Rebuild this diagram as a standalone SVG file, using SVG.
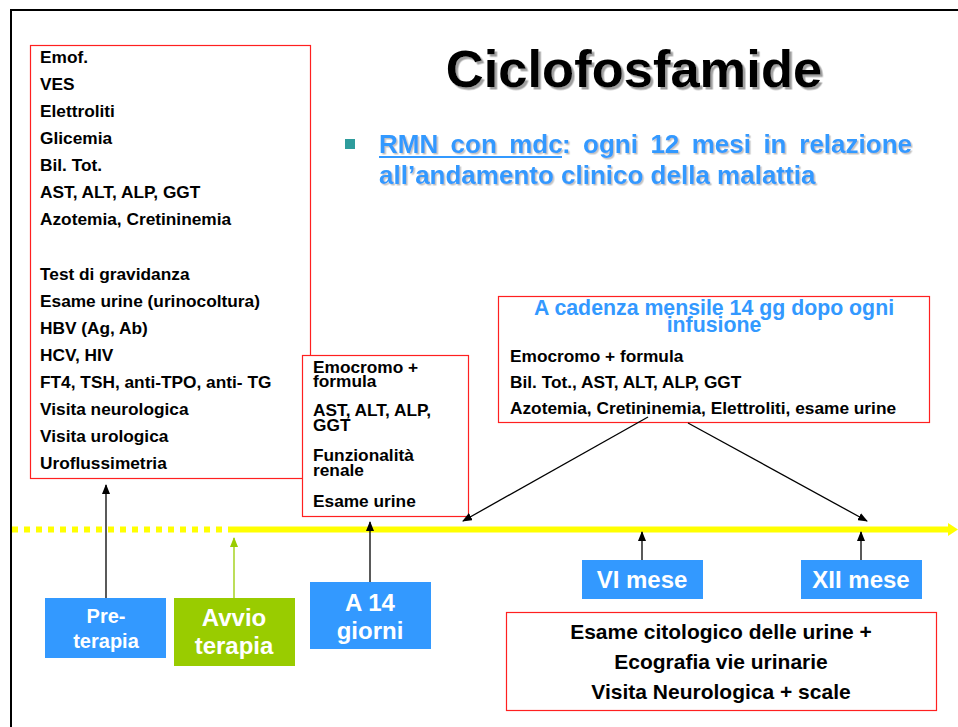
<svg xmlns="http://www.w3.org/2000/svg" width="958" height="727" viewBox="0 0 958 727">
<style>
text{font-family:"Liberation Sans",Arial,sans-serif;font-weight:bold}
.k{font-size:17.3px;fill:#000}
.b{font-size:26px;fill:#3399ff}
.w{fill:#fff;text-anchor:middle}
.rb{fill:#fff;stroke:#ff2020;stroke-width:1.2}
.blue{fill:#3399ff}
.green{fill:#99cc00}
.arr{stroke:#000;stroke-width:1.3;fill:none;marker-end:url(#ah)}
</style>
<defs>
<marker id="ah" markerUnits="userSpaceOnUse" markerWidth="10" markerHeight="8" refX="9" refY="4" orient="auto"><path d="M0,0 L10,4 L0,8 Z" fill="#000"/></marker>
<marker id="ahg" markerUnits="userSpaceOnUse" markerWidth="10" markerHeight="8" refX="9" refY="4" orient="auto"><path d="M0,0 L10,4 L0,8 Z" fill="#99cc00"/></marker>
<filter id="sh1" x="-5%" y="-20%" width="110%" height="140%"><feDropShadow dx="2.5" dy="2.5" stdDeviation="0.6" flood-color="#888" flood-opacity="0.8"/></filter>
<filter id="sh2" x="-5%" y="-20%" width="110%" height="140%"><feDropShadow dx="1.5" dy="1.5" stdDeviation="0.6" flood-color="#aaa" flood-opacity="0.7"/></filter>
</defs>
<rect width="958" height="727" fill="#fff"/>
<g id="frame"><path d="M10,10 H958 M11,10 V727" stroke="#000" stroke-width="2" fill="none"/></g>

<g id="title"><text x="634" y="87" font-size="52.5" text-anchor="middle" filter="url(#sh1)">Ciclofosfamide</text></g>

<g id="bullet">
<rect x="345" y="139" width="10" height="10" fill="#2e9c9c"/>
<g filter="url(#sh2)">
<text class="b" x="379" y="153">RMN</text>
<text class="b" x="450.6" y="153">con</text>
<text class="b" x="509.2" y="153">mdc</text>
<text class="b" x="562" y="153">:</text>
<text class="b" x="583.1" y="153">ogni</text>
<text class="b" x="650.4" y="153">12</text>
<text class="b" x="691.7" y="153">mesi</text>
<text class="b" x="763.4" y="153">in</text>
<text class="b" x="912" y="153" text-anchor="end">relazione</text>
<text class="b" x="379" y="184">all’andamento clinico della malattia</text>
</g>
<rect x="379" y="156" width="183" height="2" fill="#3399ff"/>
</g>

<g id="timeline">
<line x1="12" y1="529.5" x2="232" y2="529.5" stroke="#ffff00" stroke-width="6" stroke-dasharray="6 6"/>
<line x1="232" y1="529.5" x2="950" y2="529.5" stroke="#ffff00" stroke-width="6"/>
<polygon points="948,523 958,529.5 948,536" fill="#ffff00"/>
</g>

<g id="pre-exams">
<rect class="rb" x="30.5" y="45.5" width="280" height="433"/>
<text class="k" x="40" y="63">Emof.</text>
<text class="k" x="40" y="90">VES</text>
<text class="k" x="40" y="117">Elettroliti</text>
<text class="k" x="40" y="144">Glicemia</text>
<text class="k" x="40" y="171">Bil. Tot.</text>
<text class="k" x="40" y="198">AST, ALT, ALP, GGT</text>
<text class="k" x="40" y="225">Azotemia, Cretininemia</text>
<text class="k" x="40" y="280">Test di gravidanza</text>
<text class="k" x="40" y="307">Esame urine (urinocoltura)</text>
<text class="k" x="40" y="334">HBV (Ag, Ab)</text>
<text class="k" x="40" y="361">HCV, HIV</text>
<text class="k" x="40" y="388">FT4, TSH, anti-TPO, anti- TG</text>
<text class="k" x="40" y="415">Visita neurologica</text>
<text class="k" x="40" y="442">Visita urologica</text>
<text class="k" x="40" y="469">Uroflussimetria</text>
</g>

<g id="day14-exams">
<rect class="rb" x="302.5" y="355.5" width="166" height="161"/>
<text class="k" x="313" y="373">Emocromo +</text>
<text class="k" x="313" y="387">formula</text>
<text class="k" x="313" y="416">AST, ALT, ALP,</text>
<text class="k" x="313" y="431">GGT</text>
<text class="k" x="313" y="461">Funzionalità</text>
<text class="k" x="313" y="476">renale</text>
<text class="k" x="313" y="507">Esame urine</text>
</g>

<g id="monthly-exams">
<rect class="rb" x="498.5" y="296.5" width="431" height="126"/>
<text x="714" y="315" font-size="21.3" fill="#3399ff" text-anchor="middle">A cadenza mensile 14 gg dopo ogni</text>
<text x="714" y="332" font-size="21.3" fill="#3399ff" text-anchor="middle">infusione</text>
<text class="k" x="510" y="362">Emocromo + formula</text>
<text class="k" x="510" y="388">Bil. Tot., AST, ALT, ALP, GGT</text>
<text class="k" x="510" y="414">Azotemia, Cretininemia, Elettroliti, esame urine</text>
</g>

<g id="pre-terapia">
<rect class="blue" x="45" y="598" width="121" height="60"/>
<text class="w" x="106" y="623" font-size="20">Pre-</text>
<text class="w" x="106" y="648" font-size="20">terapia</text>
</g>

<g id="avvio-terapia">
<rect class="green" x="174" y="598" width="121" height="68"/>
<text class="w" x="234" y="626" font-size="24">Avvio</text>
<text class="w" x="234" y="654" font-size="24">terapia</text>
</g>

<g id="a14-giorni">
<rect class="blue" x="310" y="582" width="121" height="67"/>
<text class="w" x="370" y="611" font-size="24">A 14</text>
<text class="w" x="370" y="639" font-size="24">giorni</text>
</g>

<g id="vi-mese">
<rect class="blue" x="582" y="560" width="121" height="39"/>
<text class="w" x="642" y="588" font-size="24">VI mese</text>
</g>

<g id="xii-mese">
<rect class="blue" x="801" y="560" width="121" height="39"/>
<text class="w" x="861" y="588" font-size="24">XII mese</text>
</g>

<g id="followup-exams">
<rect class="rb" x="506.5" y="612.5" width="430" height="98"/>
<text x="721" y="639" font-size="21" text-anchor="middle">Esame citologico delle urine +</text>
<text x="721" y="669" font-size="21" text-anchor="middle">Ecografia vie urinarie</text>
<text x="721" y="699" font-size="21" text-anchor="middle">Visita Neurologica + scale</text>
</g>

<g id="connectors">
<line class="arr" x1="106" y1="598" x2="106" y2="485"/>
<line x1="234" y1="598" x2="234" y2="538" stroke="#99cc00" stroke-width="1.3" marker-end="url(#ahg)"/>
<line class="arr" x1="370" y1="582" x2="370" y2="522"/>
<line class="arr" x1="648" y1="417" x2="463" y2="521"/>
<line class="arr" x1="688" y1="423" x2="867" y2="521"/>
<line class="arr" x1="642" y1="560" x2="642" y2="532"/>
<line class="arr" x1="861" y1="560" x2="861" y2="532"/>
</g>
</svg>
